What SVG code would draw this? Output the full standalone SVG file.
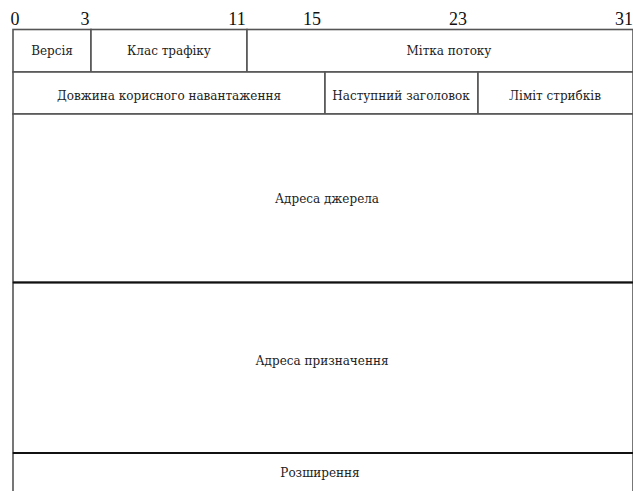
<svg xmlns="http://www.w3.org/2000/svg" width="633" height="491" viewBox="0 0 633 491">
<style>
.b{fill:#fff;stroke:#555;stroke-width:1.6}
.h{stroke:#111;stroke-width:2;fill:none}
.t{font-family:"DejaVu Serif","Liberation Serif",serif;font-size:12px;fill:#222;text-anchor:middle}
.n{font-family:"Liberation Serif","Times New Roman",serif;font-size:18px;fill:#111;text-anchor:middle}
</style>
<rect width="633" height="491" fill="#fff"/>
<g id="bits">
<text class="n" x="15" y="25">0</text>
<text class="n" x="85" y="25">3</text>
<text class="n" x="237" y="25">11</text>
<text class="n" x="312" y="25">15</text>
<text class="n" x="458" y="25">23</text>
<text class="n" x="633" y="25" style="text-anchor:end">31</text>
</g>
<g id="version"><rect class="b" x="13" y="29.5" width="78" height="42.5"/><text class="t" x="52" y="55">Версія</text></g>
<g id="traffic-class"><rect class="b" x="91" y="29.5" width="156" height="42.5"/><text class="t" x="169" y="55">Клас трафіку</text></g>
<g id="flow-label"><rect class="b" x="247" y="29.5" width="386" height="42.5"/><text class="t" x="449" y="55">Мітка потоку</text></g>
<g id="payload-length"><rect class="b" x="13" y="72" width="312" height="42"/><text class="t" x="169" y="100">Довжина корисного навантаження</text></g>
<g id="next-header"><rect class="b" x="325" y="72" width="153" height="42"/><text class="t" x="401" y="100">Наступний заголовок</text></g>
<g id="hop-limit"><rect class="b" x="478" y="72" width="155" height="42"/><text class="t" x="555" y="100">Ліміт стрибків</text></g>
<g id="source-address"><rect class="b" x="13" y="114" width="620" height="168.5"/><text class="t" x="327" y="203">Адреса джерела</text></g>
<g id="destination-address"><rect class="b" x="13" y="282.5" width="620" height="170.5"/><text class="t" x="322" y="365">Адреса призначення</text></g>
<g id="extensions"><rect class="b" x="13" y="453" width="620" height="45"/><text class="t" x="320" y="477">Розширення</text></g>
<g id="connectors">
<line class="h" x1="13" y1="282.5" x2="633" y2="282.5"/>
<line class="h" x1="13" y1="453" x2="633" y2="453"/>
</g>
</svg>
